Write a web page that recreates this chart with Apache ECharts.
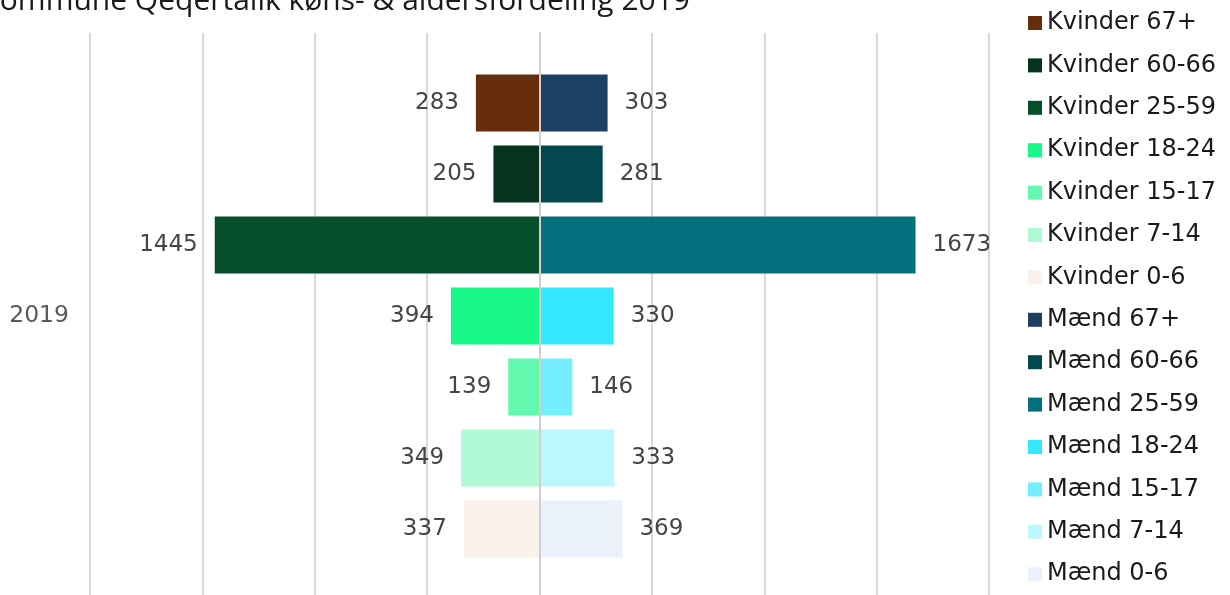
<!DOCTYPE html>
<html>
<head>
<meta charset="utf-8">
<script src="https://cdn.jsdelivr.net/npm/echarts@6/dist/echarts.min.js"></script>
<style>
	html, body { margin: 0; padding: 0; background: #fff; }
	#pyramid { width: 1230px; height: 595px; }
</style>
</head>
<body>
<div id="pyramid"></div>
<script>
var years = [ '2019' ];
var ageGroups = [ '67+', '60-66', '25-59', '18-24', '15-17', '7-14', '0-6' ];
var women = [ 283, 205, 1445, 394, 139, 349, 337 ];
var men = [ 303, 281, 1673, 330, 146, 333, 369 ];
var womenColors = [ '#662E0B', '#05331E', '#054F2B', '#18F888', '#62F9AE', '#B1FAD6', '#FAF1EB' ];
var menColors = [ '#1E3F64', '#03474F', '#03707E', '#33E8FF', '#75EEFF', '#BBF7FF', '#EAF1FA' ];
var xTicks = { min : -2000, max : 2000, step : 500 };

var font = '"DejaVu Sans", sans-serif';

function makeSeries(prefix, values, colors, sign) {
	return ageGroups.map(function(age, i) {
		return {
			type : 'bar',
			name : prefix + ' ' + age,
			stack : 'age' + i,
			data : [ sign * values[i] ],
			barWidth : 57,
			barGap : '24.5%',
			itemStyle : { color : colors[i] },
			label : {
				show : true,
				position : sign < 0 ? 'left' : 'right',
				distance : 17,
				fontFamily : font,
				fontSize : 23,
				color : '#454545',
				formatter : function(p) {
					return Math.abs(p.value);
				}
			}
		};
	});
}

var chart = echarts.init(document.getElementById('pyramid'));
var option = {
	animation : false,
	title : {
		text : 'Kommune Qeqertalik køns- & aldersfordeling 2019',
		right : 535,
		top : -19,
		textStyle : {
			fontFamily : '"Open Sans", sans-serif',
			fontSize : 30,
			fontWeight : 'normal',
			color : '#1a1a1a'
		}
	},
	legend : {
		orient : 'vertical',
		left : 1028,
		top : 11,
		padding : 0,
		itemWidth : 14,
		itemHeight : 14,
		itemGap : 18.4,
		icon : 'rect',
		textStyle : {
			fontFamily : font,
			fontSize : 24,
			color : '#1a1a1a'
		}
	},
	grid : {
		left : 90,
		right : 241,
		top : 33,
		bottom : -4,
		outerBoundsMode : 'none'
	},
	xAxis : {
		type : 'value',
		min : xTicks.min,
		max : xTicks.max,
		interval : xTicks.step,
		axisLabel : { show : false },
		axisLine : { show : false },
		axisTick : { show : false },
		splitLine : {
			lineStyle : { color : '#d9d9d9', width : 2 }
		}
	},
	yAxis : {
		type : 'category',
		data : years,
		zlevel : 1,
		z : 10,
		axisTick : { show : false },
		axisLine : {
			show : true,
			onZero : true,
			lineStyle : { color : '#d0d0d0', width : 2 }
		},
		axisLabel : {
			margin : 21,
			fontFamily : font,
			fontSize : 23.5,
			color : '#595959'
		}
	},
	series : makeSeries('Kvinder', women, womenColors, -1).concat(makeSeries('Mænd', men, menColors, 1))
};
chart.setOption(option);

window.onresize = function() {
	chart.resize();
};
</script>
</body>
</html>
